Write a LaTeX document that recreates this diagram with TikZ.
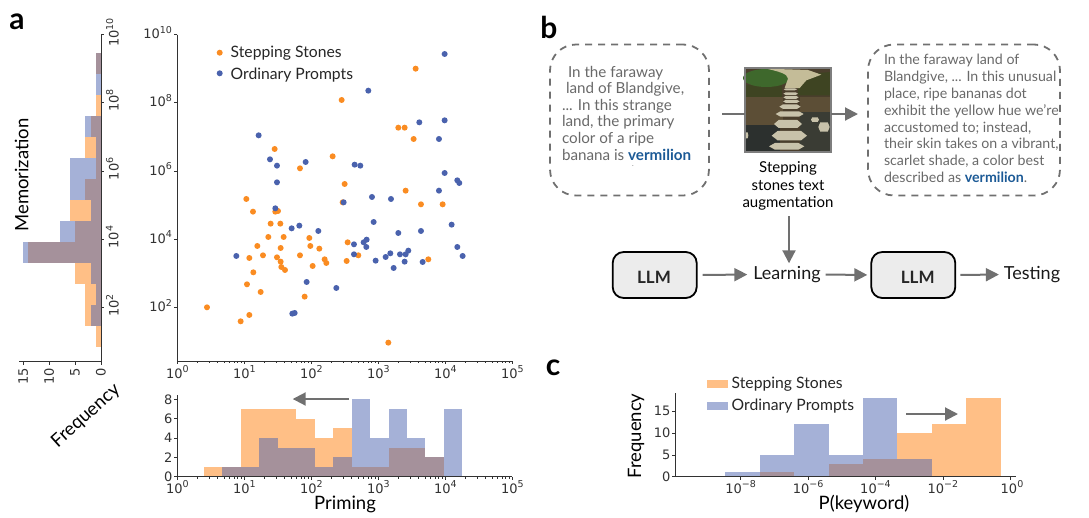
\documentclass[tikz,border=0pt]{standalone}
\usepackage{fontspec}
\setmainfont{Lato}
\newfontfamily\tickfont{DejaVu Sans}
\usetikzlibrary{arrows.meta}
\usetikzlibrary{positioning}
\definecolor{stepdot}{RGB}{250,140,34}
\definecolor{plaindot}{RGB}{74,98,173}
\definecolor{stepbar}{RGB}{255,127,14}
\definecolor{plainbar}{RGB}{76,100,176}
\definecolor{axisgrey}{RGB}{50,50,50}
\definecolor{flowgrey}{RGB}{112,112,112}
\definecolor{textgrey}{RGB}{105,105,105}
\definecolor{keyword}{RGB}{28,90,150}
\definecolor{boxgrey}{RGB}{236,236,236}
\definecolor{groundtone}{RGB}{74,62,44}
\definecolor{earthtone}{RGB}{92,78,54}
\definecolor{watertone}{RGB}{44,48,46}
\definecolor{pooltone}{RGB}{58,60,52}
\definecolor{bushtone}{RGB}{62,68,34}
\definecolor{lawntone}{RGB}{62,104,44}
\definecolor{sandtone}{RGB}{196,188,152}
\definecolor{stonetone}{RGB}{200,194,170}
\newcommand*{\logtick}[1]{10\raisebox{0.42em}{\fontsize{9.5}{9.5}\selectfont #1}}
\newcommand*{\hitword}{\textcolor{keyword}{\fontseries{b}\selectfont vermilion}}
\tikzstyle{base}=[x=1pt, y=-1pt, inner sep=0pt, outer sep=0pt]
\tikzstyle{axisline}=[axisgrey, line width=1pt]
\tikzstyle{tick}=[axisgrey, line width=0.7pt]
\tikzstyle{ticklabel}=[axisgrey, font=\tickfont\fontsize{13}{13}\selectfont]
\tikzstyle{axislabel}=[black, font=\fontsize{18.5}{18.5}\selectfont]
\tikzstyle{keylabel}=[black!85, anchor=west, font=\fontsize{15.7}{15.7}\selectfont]
\tikzstyle{panel}=[black, font=\fontseries{b}\fontsize{30}{30}\selectfont]
\tikzstyle{stepfill}=[fill=stepbar, fill opacity=0.5]
\tikzstyle{plainfill}=[fill=plainbar, fill opacity=0.5]
\tikzstyle{flow}=[flowgrey, line width=2pt, -{Triangle[length=13pt,width=13pt]}]
\tikzstyle{cloud}=[draw=flowgrey, line width=1.8pt, dash pattern=on 7pt off 6pt, rounded corners=26pt]
\tikzstyle{prose}=[textgrey, anchor=north west, align=left, font=\fontsize{15.2}{16.6}\selectfont]
\tikzstyle{widerprose}=[prose, font=\fontsize{14.2}{16.9}\selectfont]
\tikzstyle{model}=[draw=black, fill=boxgrey, line width=1.8pt, rounded corners=11pt, minimum width=84pt, minimum height=46pt]
\tikzstyle{modeltext}=[black!85, font=\fontseries{b}\fontsize{17}{17}\selectfont]
\tikzstyle{flowtext}=[black!90, font=\fontsize{18}{18}\selectfont]
\begin{document}
\begin{tikzpicture}[base]
    \path [use as bounding box] (0,0) rectangle (1089,517);
    % panel a: left histogram
    \foreach \i/\v in {0/1,2/1,3/2,4/3,5/1,6/3,7/6,8/5,9/14,10/5,11/3,12/3,13/1}
        \path [stepfill] ({101-\v*5.18},{53.3+20.95*\i}) rectangle (101,{53.3+20.95*(\i+1)});
    \foreach \i/\v in {0/1,1/1,3/3,4/1,5/6,6/6,7/2,8/8,9/15,10/2,11/1,12/2}
        \path [plainfill] ({101-\v*5.18},{53.3+20.95*\i}) rectangle (101,{53.3+20.95*(\i+1)});
    \draw [axisline] (101,34.3) -- (101,361.7) -- (19.3,361.7);
    \foreach \e in {2,4,6,8,10} {
        \draw [tick] (101,{375.5-34.1*\e}) -- (104,{375.5-34.1*\e});
        \node [ticklabel, rotate=90, anchor=north] at (106,{373.5-34.1*\e}) {\logtick{\e}};
    }
    \foreach \v in {0,5,10,15} {
        \draw [tick] ({101-\v*5.18},361.7) -- ({101-\v*5.18},365);
        \node [ticklabel, rotate=90, anchor=east] at ({101-\v*5.18},368) {\v};
    }
    \node [axislabel, rotate=90] (memlabel) at (21.7,175) {Memorization};
    \node [axislabel, rotate=42] (freqlabel) at (86,416) {Frequency};
    \node [panel] (panela) at (17,22) {a};
    % panel a: scatter
    \draw [axisline] (177.3,34.7) -- (177.3,361) -- (512.3,361);
    \foreach \e in {2,4,6,8,10} {
        \draw [tick] (177.3,{375.5-34.1*\e}) -- (174.3,{375.5-34.1*\e});
        \node [ticklabel, anchor=east] at (172,{373.5-34.1*\e}) {\logtick{\e}};
    }
    \foreach \e in {0,...,5} {
        \draw [tick] ({177.3+67*\e},361) -- ({177.3+67*\e},364);
        \node [ticklabel] at ({177.3+67*\e},372) {\logtick{\e}};
        \draw [tick] ({177.3+67*\e},476.7) -- ({177.3+67*\e},480);
        \node [ticklabel] at ({177.3+67*\e},487) {\logtick{\e}};
    }
    \foreach \e in {0,...,4} \foreach \m in {2,...,9} {
        \pgfmathsetmacro{\tickx}{177.3+67*(\e+log10(\m))}
        \draw [tick] (\tickx,361) -- (\tickx,362.8);
        \draw [tick] (\tickx,476.7) -- (\tickx,478.5);
    }
    \begin{scope}[shift={(130,20)}, x=0.3333pt, y=-0.3333pt]
        \foreach \x/\y in {231/862,332/904,358/885,351/793,392/816,370/757,358/714,399/706,382/678,415/651,422/611,451/611,461/651,452/684,441/712,452/725,454/741,465/750,510/706,541/678,538/654,568/686,584/718,589/729,548/738,524/830,650/723,685/706,653/667,349/537,369/575,436/575,444/573,638/547,644/492,510/445,608/409,434/387,635/240,857/146,805/323,824/323,851/357,827/512,873/553,938/553,895/718,775/968}
            \fill [stepdot] (\x,\y) circle (3pt);
        \foreach \x/\y in {944/102,715/212,868/307,944/301,927/357,386/346,420/418,527/426,441/437,674/434,691/437,441/487,944/459,982/481,988/489,927/512,726/531,783/537,641/547,436/565,731/606,965/614,485/625,508/617,565/633,805/639,873/633,672/673,701/667,710/659,709/681,672/703,319/708,737/722,767/711,781/700,810/703,827/703,835/692,824/725,791/744,878/726,982/681,998/708,619/804,530/786,487/881,494/879}
            \fill [plaindot] (\x,\y) circle (3pt);
    \end{scope}
    \fill [stepdot] (219.7,52.7) circle (3pt);
    \fill [plaindot] (219.7,73.3) circle (3pt);
    \node [keylabel] (keysteps) at (230.7,53) {Stepping Stones};
    \node [keylabel] (keyplain) at (230.7,75) {Ordinary Prompts};
    % panel a: bottom histogram
    \foreach \i/\v in {0/1,1/1,2/7,3/7,4/7,5/6,6/4,7/5,8/1,9/1,10/3,11/3,12/2}
        \path [stepfill] ({204+18.45*\i},{476.7-\v*9.67}) rectangle ({204+18.45*(\i+1)},476.7);
    \foreach \i/\v in {1/1,2/1,3/4,4/3,5/3,6/1,7/2,8/8,9/4,10/7,11/4,12/2,13/7}
        \path [plainfill] ({204+18.45*\i},{476.7-\v*9.67}) rectangle ({204+18.45*(\i+1)},476.7);
    \draw [axisline] (177.3,395) -- (177.3,476.7) -- (512.3,476.7);
    \foreach \v in {0,2,4,6,8} {
        \draw [tick] (177.3,{476.7-\v*9.67}) -- (174.3,{476.7-\v*9.67});
        \node [ticklabel, anchor=east] at (172.5,{476.7-\v*9.67}) {\v};
    }
    \coordinate (shiftstart) at (349,399);
    \coordinate (shiftend) at (292.7,399);
    \draw [flow] (shiftstart) -- (shiftend);
    \node [axislabel] (primelabel) at (345,504) {Priming};
    % panel b
    \node [panel] (panelb) at (549,27) {b};
    \node [cloud, minimum width=159pt, minimum height=151pt] (leftcloud) at (629.5,120) {};
    \node [cloud, minimum width=192pt, minimum height=151pt] (rightcloud) at (964,120) {};
    \node [prose] (lefttext) at (562,66) {\hspace*{6pt}In the faraway\\\hspace*{4pt}land of Blandgive,\\... In this strange\\land, the primary\\color of a ripe\\banana is \hitword};
    \node [prose, font=\fontsize{7}{7}\selectfont] (leftdot) at (632,166) {.};
    \node [widerprose] (righttext) at (884,54) {In the faraway land of\\Blandgive, ... In this unusual\\place, ripe bananas dot\\exhibit the yellow hue we're\\accustomed to; instead,\\their skin takes on a vibrant,\\scarlet shade, a color best\\described as \hitword.};
    % stepping stones photo
    \begin{scope}[shift={(738,62)}, x=0.3333pt, y=-0.3333pt]
        \fill [groundtone] (18,15) rectangle (282,272);
        \fill [earthtone] (22,105) rectangle (135,195);
        \fill [watertone] (22,190) rectangle (125,268);
        \fill [pooltone] (185,150) rectangle (278,268);
        \fill [earthtone] (185,105) rectangle (278,150);
        \fill [bushtone] (180,38) -- (278,30) -- (278,100) -- (180,100) -- cycle;
        \fill [bushtone] (22,70) rectangle (132,105);
        \fill [lawntone] (85,48) ellipse (70 and 27);
        \fill [sandtone] (85,20) -- (210,24) -- (250,38) -- (205,55) -- (185,78) -- (140,78) -- (150,50) .. controls (150,35) and (120,28) .. (85,20);
        \foreach \sx/\sy/\sw/\sh in {157/82/40/6,158/95/44/8,159/106/46/9,160/118/50/9,156/134/64/13,155/156/84/16,150/186/84/24,154/221/106/28,146/253/106/20,258/195/34/28,231/173/24/14,25/220/12/18}
            \fill [stonetone] (\sx-\sw/2,\sy) -- (\sx-\sw/3,\sy-\sh/2) -- (\sx+\sw/3,\sy-\sh/2) -- (\sx+\sw/2,\sy) -- (\sx+\sw/3,\sy+\sh/2) -- (\sx-\sw/3,\sy+\sh/2) -- cycle;
    \end{scope}
    \node [draw=flowgrey!90!white, line width=2.6pt, minimum width=86pt, minimum height=84pt] (photo) at (788,110) {};
    \coordinate (feedin) at (722,114);
    \coordinate (feedout) at (858,114);
    \draw [flowgrey, line width=2pt] (feedin) -- (feedin -| photo.west);
    \draw [flow] (feedout -| photo.east) -- (feedout);
    \node [align=center, black, font=\fontsize{15}{17.4}\selectfont] (caption) at (788,186) {Stepping\\stones text\\augmentation};
    \node [model] (modela) at (654.7,275) {};
    \node [modeltext] (modelatext) at (654,277) {LLM};
    \node [model] (modelb) at (913.3,275) {};
    \node [modeltext] (modelbtext) at (917.7,277) {LLM};
    \node [flowtext] (learning) at (787,274.5) {Learning};
    \node [flowtext] (testing) at (1032,274.5) {Testing};
    \coordinate (augfoot) at (789,216);
    \draw [flow, shorten >=3pt] (augfoot) -- (augfoot |- learning.north);
    \draw [flow, shorten <=6pt, shorten >=6pt] (modela.east) -- (learning.west);
    \draw [flow, shorten <=5pt, shorten >=4pt] (learning.east) -- (modelb.west);
    \draw [flow, shorten <=5pt, shorten >=5pt] (modelb.east) -- (testing.west);
    % panel c
    \node [panel] (panelc) at (553,368) {c};
    \foreach \i/\v in {1/1,3/3,4/4,5/10,6/12,7/18}
        \path [stepfill] ({725.3+34.4*\i},{476.7-\v*4.367}) rectangle ({725.3+34.4*(\i+1)},476.7);
    \foreach \i/\v in {0/1,1/5,2/12,3/5,4/18,5/4}
        \path [plainfill] ({725.3+34.4*\i},{476.7-\v*4.367}) rectangle ({725.3+34.4*(\i+1)},476.7);
    \draw [axisline] (675,393.3) -- (675,476.7) -- (1016,476.7);
    \foreach \v in {0,5,10,15} {
        \draw [tick] (675,{476.7-\v*4.367}) -- (672,{476.7-\v*4.367});
        \node [ticklabel, anchor=east] at (670.5,{476.7-\v*4.367}) {\v};
    }
    \foreach \e in {8,6,4,2} {
        \draw [tick] ({1010.3-33.7*\e},476.7) -- ({1010.3-33.7*\e},480);
        \node [ticklabel] at ({1010.3-33.7*\e},487) {\logtick{−\e}};
    }
    \draw [tick] (1010.3,476.7) -- (1010.3,480);
    \node [ticklabel] at (1012,487) {\logtick{0}};
    \path [stepfill] (706.7,380.3) rectangle (727.7,388.3);
    \path [plainfill] (706.7,401.7) rectangle (727.7,409.7);
    \node [keylabel] (histsteps) at (731.7,384.5) {Stepping Stones};
    \node [keylabel] (histplain) at (731.7,406) {Ordinary Prompts};
    \coordinate (gainstart) at (906,414);
    \coordinate (gainend) at (958,414);
    \draw [flow] (gainstart) -- (gainend);
    \node [axislabel, rotate=90] (chistfreq) at (636,436) {Frequency};
    \node [axislabel] (keylabel) at (864,504) {P(keyword)};
\end{tikzpicture}
\end{document}
